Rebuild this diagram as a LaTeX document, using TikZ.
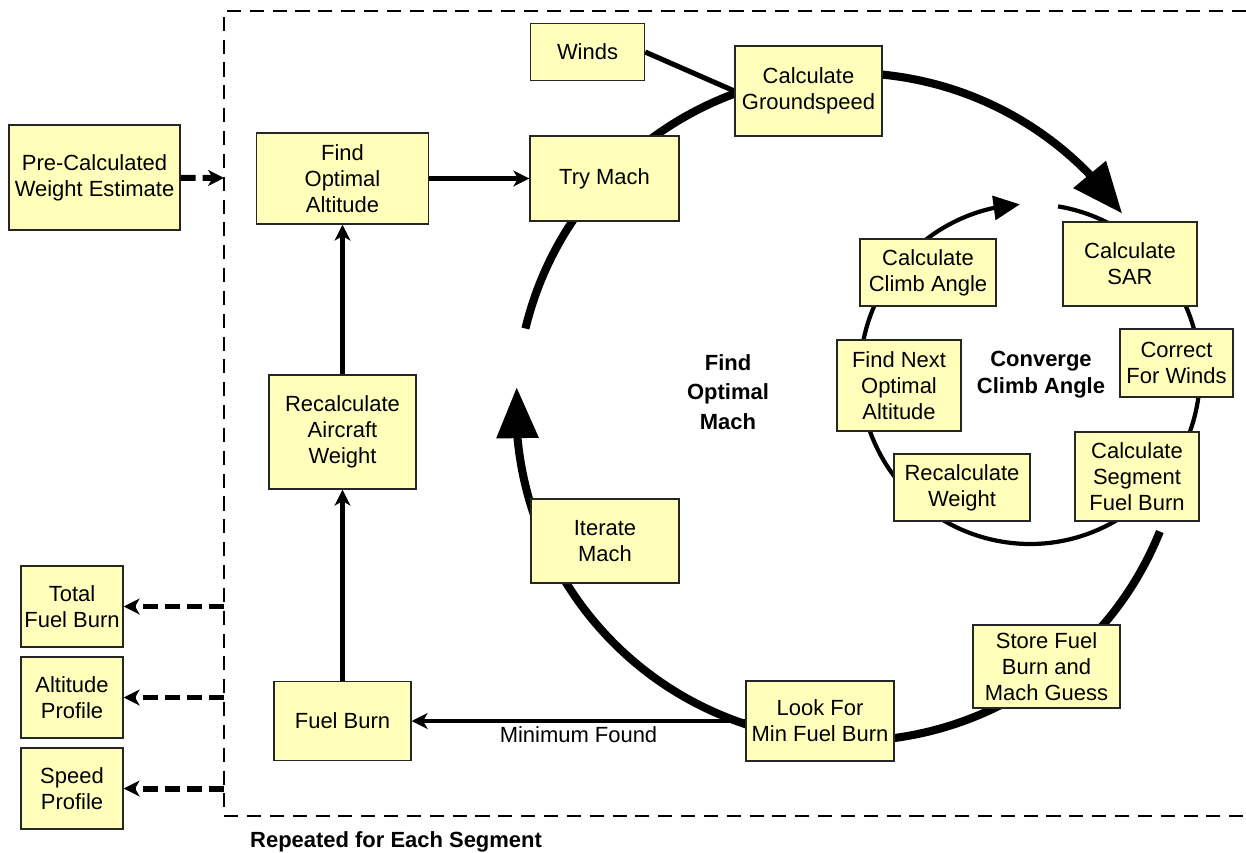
\documentclass[tikz,border=0pt]{standalone}
\usepackage{fontspec}
\setmainfont{Liberation Sans}
\usetikzlibrary{arrows.meta,bending,backgrounds}
\definecolor{boxfill}{HTML}{FFFFBB}
\tikzset{
  blk/.style 2 args={draw=black!85, line width=0.8pt, fill=boxfill, align=center,
    inner sep=1pt, minimum width=#1*0.02cm, minimum height=#2*0.02cm,
    font=\fontsize{12.5}{14.8}\selectfont},
  flow/.style={line width=2.4pt, -{Stealth[length=9pt,width=9pt,inset=2.5pt]}},
  outflow/.style={flow, line width=3.4pt, dash pattern=on 8.5pt off 4pt},
  bigloop/.style={line width=4.6pt, -{Triangle[length=29pt,width=23pt]}},
  smallloop/.style={line width=2.4pt, -{Triangle[length=15pt,width=13.5pt]}},
  lbl/.style={font=\bfseries\fontsize{12.5}{16}\selectfont, align=center}
}
\begin{document}
\begin{tikzpicture}[x=0.02cm,y=0.02cm]
  \useasboundingbox (0,0) rectangle (1246,-852);

  % inputs and outputs
  \node[blk={171}{105}] (pre) at (94.5,-177.5) {Pre-Calculated\\Weight Estimate};
  \node[blk={102}{81}] (total) at (72,-606.5) {Total\\Fuel Burn};
  \node[blk={102}{81}] (altprof) at (72,-697.5) {Altitude\\Profile};
  \node[blk={102}{81}] (speedprof) at (72,-788.5) {Speed\\Profile};

  % segment loop
  \node[blk={172}{91}] (findalt) at (342.5,-178.5) {Find\\Optimal\\Altitude};
  \node[blk={147}{114}] (raw) at (342.5,-432) {Recalculate\\Aircraft\\Weight};
  \node[blk={137}{79}] (fuelburn) at (342.5,-721) {Fuel Burn};

  % mach loop
  \node[blk={149}{85}] (trymach) at (604.5,-178.5) {Try Mach};
  \node[blk={114}{57}] (winds) at (587.5,-52) {Winds};
  \node[blk={147}{90}] (ground) at (808.5,-91) {Calculate\\Groundspeed};
  \node[blk={148}{84}] (iter) at (605,-541) {Iterate\\Mach};
  \node[blk={148}{80}] (lookfor) at (820,-721) {Look For\\Min Fuel Burn};
  \node[blk={147}{83}] (store) at (1046.5,-666.5) {Store Fuel\\Burn and\\Mach Guess};

  % climb angle loop
  \node[blk={134}{84}] (sar) at (1130,-264) {Calculate\\SAR};
  \node[blk={136}{67}] (climb) at (928,-272.5) {Calculate\\Climb Angle};
  \node[blk={124}{91}] (nextalt) at (899,-385.5) {Find Next\\Optimal\\Altitude};
  \node[blk={113}{68}] (corr) at (1176.5,-363) {Correct\\For Winds};
  \node[blk={136}{67}] (rweight) at (962,-487.5) {Recalculate\\Weight};
  \node[blk={124}{89}] (segfuel) at (1137,-476.5) {Calculate\\Segment\\Fuel Burn};

  \node[lbl, font=\bfseries\fontsize{12.5}{16.7}\selectfont] (machlbl) at (728,-392) {Find\\Optimal\\Mach};
  \node[lbl, font=\bfseries\fontsize{12.5}{15.3}\selectfont] (climblbl) at (1041,-375) {Converge\\Climb Angle};
  \node[lbl, anchor=west] (replbl) at (244,-842) {Repeated for Each Segment};

  \begin{scope}[on background layer]
    \draw[bigloop] (850,-407) ++(166.4:6.68cm) arc[start angle=166.4, end angle=35.4, radius=6.68cm];
    \draw[bigloop] (850,-407) ++(-21.9:6.68cm) arc[start angle=-21.9, end angle=-183.4, radius=6.68cm];
    \draw[smallloop] (1030,-374) ++(80.5:3.4cm) arc[start angle=80.5, end angle=-266.6, radius=3.4cm];
    \draw[line width=2.9pt] (winds.east) -- (ground.west);
  \end{scope}

  \draw[flow] (findalt) -- (trymach);
  \draw[flow] (raw) -- (findalt);
  \draw[flow] (fuelburn) -- (raw);
  \draw[flow] (lookfor) -- node[below, inner sep=2pt, font=\fontsize{12.5}{15}\selectfont] {Minimum Found} (fuelburn);

  % repeated segment frame
  \draw[line width=1.6pt, dash pattern=on 8pt off 5pt] (1246,-11) -- (224,-11) -- (224,-816) -- (1246,-816);
  \coordinate (tapin) at (224,-178);
  \coordinate (taptotal) at (224,-606.5);
  \coordinate (tapalt) at (224,-697.5);
  \coordinate (tapspeed) at (224,-788.5);
  \draw[outflow] (pre) -- (tapin);
  \draw[outflow] (taptotal) -- (total);
  \draw[outflow] (tapalt) -- (altprof);
  \draw[outflow] (tapspeed) -- (speedprof);
\end{tikzpicture}
\end{document}
